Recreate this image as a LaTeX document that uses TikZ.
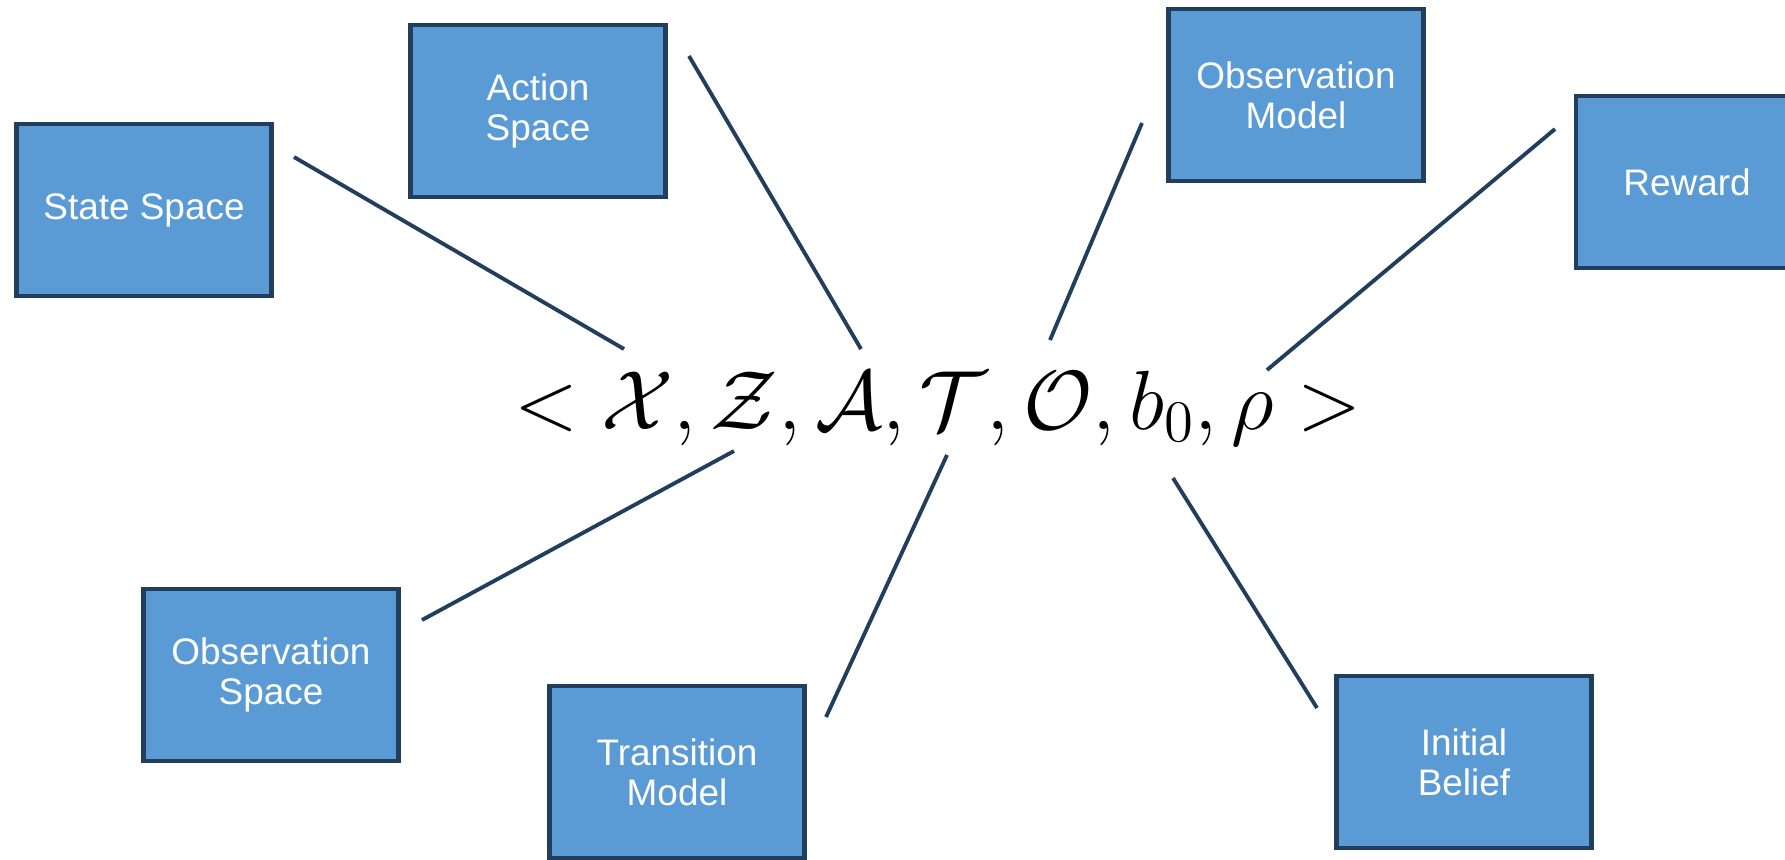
\documentclass[tikz,border=0pt]{standalone}
\usepackage{fix-cm}
\usepackage{fontspec}
\setmainfont{Liberation Sans}
\usetikzlibrary{positioning}
\definecolor{kotakbiru}{HTML}{5B9BD5}
\definecolor{garistua}{HTML}{213F5C}
\tikzset{
  kotak/.style={draw=garistua, line width=1.3pt, rectangle, align=center, fill=kotakbiru, text=white,
    minimum width=2.55cm, minimum height=1.72cm, font=\fontsize{10.5}{11.4}\selectfont},
  hubung/.style={draw=garistua, line width=1.1pt}
}
\begin{document}
\begin{tikzpicture}[x=0.01cm, y=-0.01cm]
  \useasboundingbox (0,0) rectangle (1785,859);

  % Tupel di tengah
  \node[inner sep=0pt, anchor=base] (tuple) at (938,429) {\fontsize{23.9}{27}\selectfont $<\mathcal{X},\mathcal{Z},\mathcal{A},\mathcal{T},\mathcal{O},b_0,\rho>$};

  % Kotak komponen
  \node[kotak] (SS) at (144,210) {State Space};
  \node[kotak] (AS) at (538,111) {Action\\Space};
  \node[kotak] (OM) at (1296,95) {Observation\\Model};
  \node[kotak, minimum width=2.22cm] (RW) at (1687,182) {Reward};
  \node[kotak] (OS) at (271,675) {Observation\\Space};
  \node[kotak] (TM) at (677,772) {Transition\\Model};
  \node[kotak] (IB) at (1464,762) {Initial\\Belief};

  % Ujung garis
  \coordinate (SSa) at (294,157);  \coordinate (SSb) at (624,349);
  \coordinate (ASa) at (689,56);   \coordinate (ASb) at (861,349);
  \coordinate (OMa) at (1142,123); \coordinate (OMb) at (1050,340);
  \coordinate (RWa) at (1555,129); \coordinate (RWb) at (1267,370);
  \coordinate (OSa) at (422,620);  \coordinate (OSb) at (734,451);
  \coordinate (TMa) at (826,717);  \coordinate (TMb) at (947,455);
  \coordinate (IBa) at (1317,708); \coordinate (IBb) at (1173,478);

  % Garis penghubung
  \draw[hubung] (SSa) -- (SSb);
  \draw[hubung] (ASa) -- (ASb);
  \draw[hubung] (OMa) -- (OMb);
  \draw[hubung] (RWa) -- (RWb);
  \draw[hubung] (OSa) -- (OSb);
  \draw[hubung] (TMa) -- (TMb);
  \draw[hubung] (IBa) -- (IBb);

\end{tikzpicture}
\end{document}
